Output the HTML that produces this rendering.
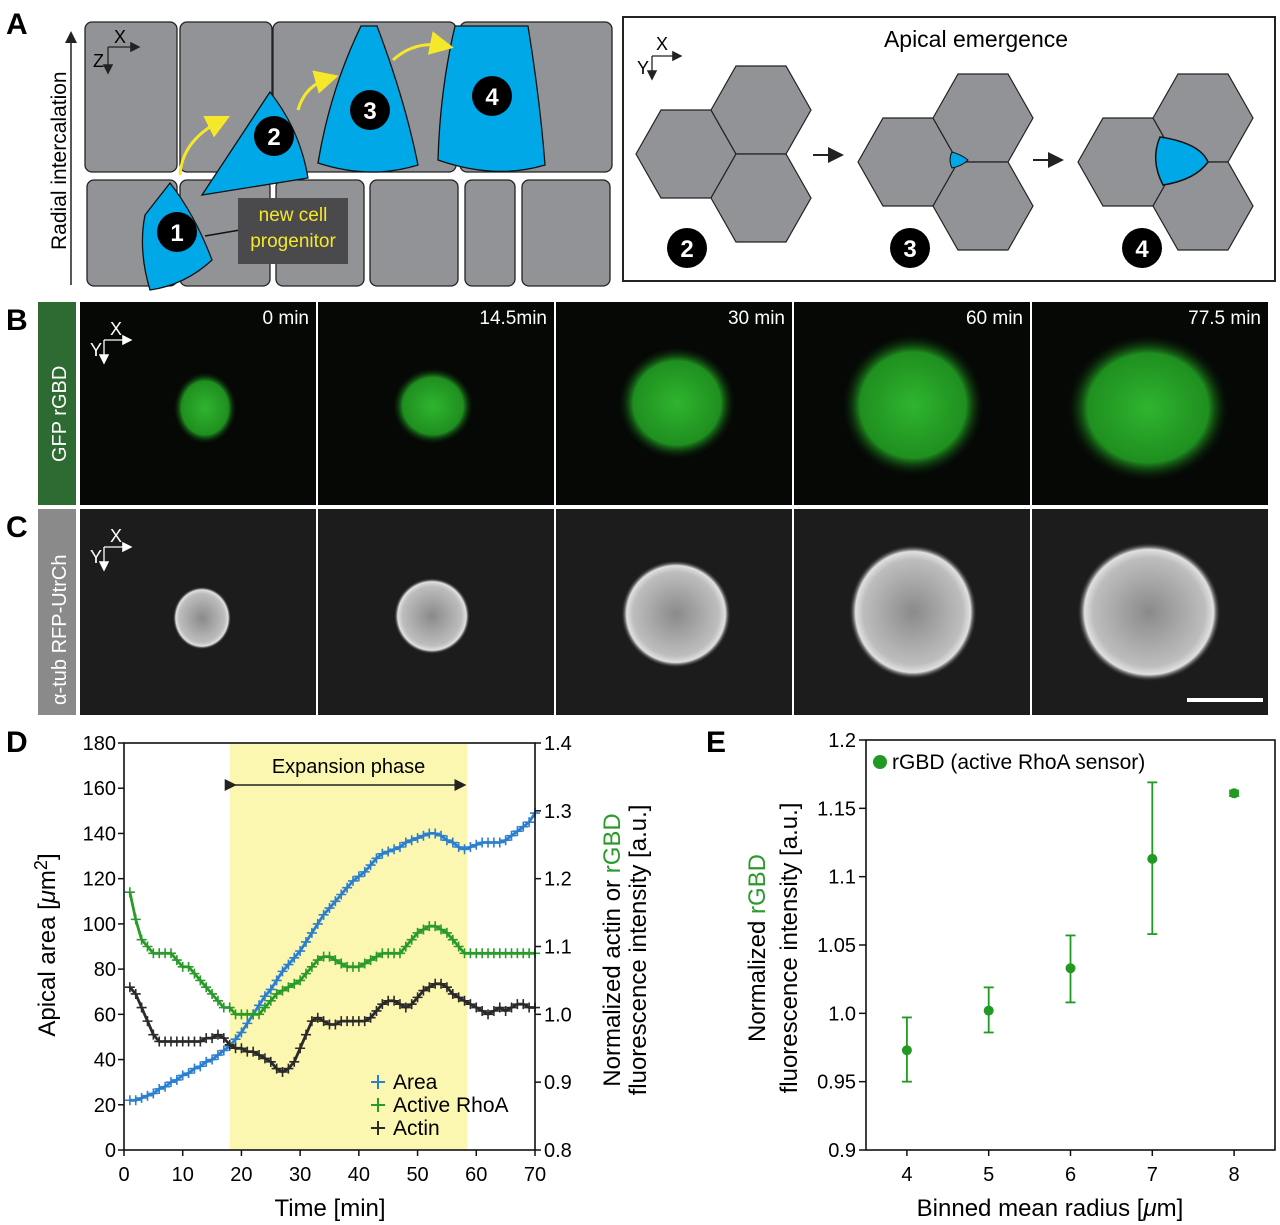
<!DOCTYPE html>
<html><head><meta charset="utf-8">
<style>
body{margin:0;background:#fff;}
svg{display:block;font-family:"Liberation Sans",Arial,sans-serif;}
</style></head>
<body>
<svg id="fig" width="1280" height="1225" viewBox="0 0 1280 1225" xmlns="http://www.w3.org/2000/svg">
<defs>
<radialGradient id="gG" cx="50%" cy="50%" r="50%"><stop offset="0" stop-color="#2fb52f"/><stop offset="0.75" stop-color="#1f8f1f"/><stop offset="1" stop-color="#0a200a" stop-opacity="0"/></radialGradient>
<radialGradient id="gW" cx="50%" cy="50%" r="50%"><stop offset="0" stop-color="#8a8a8a"/><stop offset="0.78" stop-color="#bdbdbd"/><stop offset="0.9" stop-color="#e0e0e0"/><stop offset="1" stop-color="#222" stop-opacity="0"/></radialGradient>
<marker id="ah" markerWidth="8" markerHeight="8" refX="6" refY="4" orient="auto"><path d="M0,0 L8,4 L0,8 z" fill="#222"/></marker>
<marker id="ahw" markerWidth="8" markerHeight="8" refX="6" refY="4" orient="auto"><path d="M0,0 L8,4 L0,8 z" fill="#fff"/></marker>
<marker id="ahy" markerWidth="8" markerHeight="8" refX="5" refY="4" orient="auto"><path d="M0,0 L8,4 L0,8 z" fill="#f5e82a"/></marker>
</defs>

<!-- Panel A -->
<g>
<text x="6" y="34" font-size="30" font-weight="bold">A</text>
<line x1="71" y1="285" x2="71" y2="34" stroke="#222" stroke-width="1.5" marker-end="url(#ah)"/>
<text transform="translate(66,250) rotate(-90)" font-size="21">Radial intercalation</text>
<g fill="#929396" stroke="#222" stroke-width="1.3">
<rect x="85" y="22" width="92" height="150" rx="7"/><rect x="180" y="22" width="92" height="150" rx="7"/>
<rect x="273" y="22" width="183" height="150" rx="7"/><rect x="460" y="22" width="152" height="150" rx="7"/>
<rect x="87" y="180" width="90" height="106" rx="7"/><rect x="180" y="180" width="90" height="106" rx="7"/>
<rect x="276" y="180" width="88" height="106" rx="7"/><rect x="370" y="180" width="88" height="106" rx="7"/>
<rect x="465" y="180" width="50" height="106" rx="7"/><rect x="522" y="180" width="88" height="106" rx="7"/>
</g>
<g fill="#00a8e8" stroke="#111" stroke-width="1.3">
<path d="M170,183 Q195,215 212,260 Q185,285 150,290 Q138,250 145,215 Z"/>
<path d="M270,92 Q300,130 308,178 L202,195 Z"/>
<path d="M361,26 L377,26 Q405,100 418,165 Q370,180 318,163 Q330,90 361,26 Z"/>
<path d="M455,26 L528,26 Q540,100 545,165 Q495,180 438,160 Q440,90 455,26 Z"/>
</g>
<g fill="none" stroke="#f5e82a" stroke-width="3">
<path d="M180,175 Q182,140 222,120" marker-end="url(#ahy)"/>
<path d="M298,110 Q305,85 330,78" marker-end="url(#ahy)"/>
<path d="M393,60 Q415,40 445,46" marker-end="url(#ahy)"/>
</g>
<g font-size="24" font-weight="bold" fill="#fff" text-anchor="middle">
<circle cx="177" cy="232" r="20" fill="#000"/><text x="177" y="241">1</text>
<circle cx="274" cy="136" r="20" fill="#000"/><text x="274" y="145">2</text>
<circle cx="370" cy="110" r="20" fill="#000"/><text x="370" y="119">3</text>
<circle cx="492" cy="96" r="20" fill="#000"/><text x="492" y="105">4</text>
</g>
<line x1="205" y1="236" x2="240" y2="230" stroke="#111" stroke-width="1.5"/>
<rect x="238" y="198" width="110" height="66" fill="#4a4a4c"/>
<text x="293" y="221" font-size="19" fill="#f5e82a" text-anchor="middle">new cell</text>
<text x="293" y="247" font-size="19" fill="#f5e82a" text-anchor="middle">progenitor</text>
<g stroke="#222" stroke-width="1.3" fill="none"><line x1="108" y1="47" x2="138" y2="47" marker-end="url(#ah)"/><line x1="108" y1="47" x2="108" y2="72" marker-end="url(#ah)"/></g>
<text x="114" y="43" font-size="18">X</text><text x="93" y="67" font-size="18">Z</text>

<rect x="623" y="17" width="652" height="264" fill="none" stroke="#222" stroke-width="2"/>
<text x="976" y="47" font-size="23" text-anchor="middle">Apical emergence</text>
<g stroke="#222" stroke-width="1.3" fill="none"><line x1="652" y1="56" x2="680" y2="56" marker-end="url(#ah)"/><line x1="652" y1="56" x2="652" y2="78" marker-end="url(#ah)"/></g>
<text x="656" y="50" font-size="18">X</text><text x="637" y="74" font-size="18">Y</text>
<g id="hexes" fill="#929396" stroke="#222" stroke-width="1.2"></g>
<g stroke="#222" stroke-width="2"><line x1="813" y1="155" x2="840" y2="155" marker-end="url(#ah)"/><line x1="1033" y1="160" x2="1060" y2="160" marker-end="url(#ah)"/></g>
<path d="M952,152 Q962,155 968,160 Q962,166 952,168 Q948,160 952,152Z" fill="#00a8e8" stroke="#111"/>
<path d="M1160,137 Q1200,143 1208,162 Q1195,180 1163,185 Q1150,160 1160,137Z" fill="#00a8e8" stroke="#111" stroke-width="1.5"/>
<g font-size="24" font-weight="bold" fill="#fff" text-anchor="middle">
<circle cx="687" cy="248" r="20" fill="#000"/><text x="687" y="257">2</text>
<circle cx="910" cy="248" r="20" fill="#000"/><text x="910" y="257">3</text>
<circle cx="1142" cy="248" r="20" fill="#000"/><text x="1142" y="257">4</text>
</g>
</g>

<!-- Panels B,C -->
<g>
<text x="6" y="330" font-size="30" font-weight="bold">B</text>
<rect x="38" y="302" width="38" height="203" fill="#2e6b32"/>
<text transform="translate(66,462) rotate(-90)" font-size="20" fill="#fff">GFP rGBD</text>
<g id="rowB"></g>
</g>
<g>
<text x="6" y="537" font-size="30" font-weight="bold">C</text>
<rect x="38" y="509" width="38" height="206" fill="#8a8a8a"/>
<text transform="translate(66,705) rotate(-90)" font-size="20" fill="#fff">α-tub RFP-UtrCh</text>
<g id="rowC"></g>
</g>

<!-- Panel D -->
<g>
<text x="6" y="752" font-size="30" font-weight="bold">D</text>
<g id="chartD"></g>
</g>
<!-- Panel E -->
<g>
<text x="706" y="752" font-size="30" font-weight="bold">E</text>
<g id="chartE"></g>
</g>
</svg>
<script>
const NS="http://www.w3.org/2000/svg";
function mk(parent,tag,attrs,txt){const e=document.createElementNS(NS,tag);for(const k in attrs)e.setAttribute(k,attrs[k]);if(txt!==undefined)e.textContent=txt;parent.appendChild(e);return e;}

// ---- Chart D data ----
const timeMin=[1,2,3,4,5,6,7,8,9,10,11,12,13,14,15,16,17,18,19,20,21,22,23,24,25,26,27,28,29,30,31,32,33,34,35,36,37,38,39,40,41,42,43,44,45,46,47,48,49,50,51,52,53,54,55,56,57,58,59,60,61,62,63,64,65,66,67,68,69,70];
const areaValues=[22,22,23,24,25,27,28,30,31,33,34,36,37,39,40,42,44,46,49,52,56,60,64,68,71,75,79,82,85,88,92,96,100,104,107,110,113,116,119,121,123,126,129,131,132,133,134,136,137,138,139,140,140,139,137,136,134,133,134,135,136,136,136,136,137,139,141,143,145,149];
const rhoaValues=[1.18,1.14,1.11,1.10,1.09,1.09,1.09,1.09,1.08,1.07,1.07,1.06,1.05,1.04,1.03,1.02,1.01,1.01,1.00,1.00,1.00,1.00,1.00,1.01,1.02,1.03,1.035,1.04,1.045,1.05,1.06,1.07,1.08,1.085,1.085,1.08,1.075,1.07,1.07,1.07,1.075,1.08,1.085,1.09,1.09,1.09,1.09,1.10,1.11,1.12,1.125,1.13,1.13,1.125,1.12,1.11,1.10,1.09,1.09,1.09,1.09,1.09,1.09,1.09,1.09,1.09,1.09,1.09,1.09,1.09];
const actinValues=[1.04,1.03,1.01,0.99,0.97,0.96,0.96,0.96,0.96,0.96,0.96,0.96,0.96,0.965,0.965,0.97,0.965,0.955,0.95,0.95,0.945,0.945,0.94,0.935,0.93,0.92,0.915,0.92,0.93,0.95,0.97,0.99,0.995,0.99,0.985,0.985,0.99,0.99,0.99,0.99,0.99,0.995,1.005,1.015,1.02,1.02,1.015,1.01,1.015,1.025,1.035,1.04,1.045,1.045,1.04,1.03,1.025,1.02,1.015,1.01,1.005,1.0,1.005,1.01,1.005,1.01,1.015,1.015,1.01,1.01];
const xTicksD=[0,10,20,30,40,50,60,70];
const yLeftTicks=[0,20,40,60,80,100,120,140,160,180];
const yRightTicks=[0.8,0.9,1.0,1.1,1.2,1.3,1.4];
const expansion=[18,58.5];

const D={x0:124,x1:535,y0:1150,y1:743};
const xD=t=>D.x0+(t/70)*(D.x1-D.x0);
const yL=v=>D.y0-(v/180)*(D.y0-D.y1);
const yR=v=>D.y0-((v-0.8)/0.6)*(D.y0-D.y1);
const gD=document.getElementById('chartD');
let r=mk(gD,'rect',{x:xD(expansion[0]),y:D.y1,width:xD(expansion[1])-xD(expansion[0]),height:D.y0-D.y1,fill:'#fcf7b0'});


mk(gD,'line',{x1:xD(expansion[0])+4,x2:xD(expansion[1])-4,y1:785,y2:785,stroke:'#222','stroke-width':1.5,'marker-end':'url(#ah)','marker-start':'url(#ah)'});
let et=mk(gD,'text',{x:(xD(expansion[0])+xD(expansion[1]))/2,y:773,'font-size':20,'text-anchor':'middle'},'Expansion phase');


function series(vals,yf,color,name){
  const g=mk(gD,'g',{});
  
  
  let d='';
  vals.forEach((v,i)=>{const x=xD(timeMin[i]),y=yf(v);d+=(i?'L':'M')+x.toFixed(1)+','+y.toFixed(1);
    const p=mk(g,'path',{d:`M${x-5},${y}h10M${x},${y-5}v10`,stroke:color,'stroke-width':1.6});
    
    });
  mk(g,'path',{d:d,fill:'none',stroke:color,'stroke-width':2.8});
}
series(areaValues,yL,'#2c7fcf','area');
series(rhoaValues,yR,'#2a9a2a','active-rhoa');
series(actinValues,yR,'#2a2a2a','actin');
mk(gD,'rect',{x:D.x0,y:D.y1,width:D.x1-D.x0,height:D.y0-D.y1,fill:'none',stroke:'#111','stroke-width':1.6});
xTicksD.forEach(t=>{mk(gD,'line',{x1:xD(t),x2:xD(t),y1:D.y0,y2:D.y0+6,stroke:'#111','stroke-width':1.5});
  const tx=mk(gD,'text',{x:xD(t),y:D.y0+31,'font-size':20,'text-anchor':'middle'},String(t));
  
  });
yLeftTicks.forEach(v=>{mk(gD,'line',{x1:D.x0-6,x2:D.x0,y1:yL(v),y2:yL(v),stroke:'#111','stroke-width':1.5});
  const tx=mk(gD,'text',{x:D.x0-8,y:yL(v)+7,'font-size':20,'text-anchor':'end'},String(v));
  
  });
yRightTicks.forEach(v=>{mk(gD,'line',{x1:D.x1,x2:D.x1+6,y1:yR(v),y2:yR(v),stroke:'#111','stroke-width':1.5});
  const tx=mk(gD,'text',{x:D.x1+9,y:yR(v)+7,'font-size':20},v.toFixed(1));
  
  });
let t1=mk(gD,'text',{x:330,y:1216,'font-size':24,'text-anchor':'middle'},'Time [min]');

let t2=mk(gD,'text',{transform:'translate(55,945) rotate(-90)','font-size':24,'text-anchor':'middle'});

t2.innerHTML='Apical area [<tspan font-style="italic">μ</tspan>m<tspan dy="-8" font-size="18">2</tspan><tspan dy="8">]</tspan>';
let t3=mk(gD,'text',{transform:'translate(620,950) rotate(-90)','font-size':24,'text-anchor':'middle'});

t3.innerHTML='Normalized actin or <tspan fill="#2a9a2a">rGBD</tspan>';
let t4=mk(gD,'text',{transform:'translate(646,950) rotate(-90)','font-size':24,'text-anchor':'middle'},'fluorescence intensity [a.u.]');

[['Area','#2c7fcf',1089],['Active RhoA','#2a9a2a',1112],['Actin','#2a2a2a',1135]].forEach(([n,c,y])=>{
  const g=mk(gD,'g',{});
  
  
  mk(g,'path',{d:`M371,${y-7}h14M378,${y-14}v14`,stroke:c,'stroke-width':2});
  mk(g,'text',{x:393,y:y,'font-size':21},n);
});

// ---- Chart E data ----
const radiusBins=[4,5,6,7,8];
const rgbdMeans=[0.973,1.002,1.033,1.113,1.161];
const rgbdLow=[0.950,0.986,1.008,1.058,1.159];
const rgbdHigh=[0.997,1.019,1.057,1.169,1.163];
const yTicksE=[0.9,0.95,1.0,1.05,1.1,1.15,1.2];
const yTickLabelsE=['0.9','0.95','1.0','1.05','1.1','1.15','1.2'];
const E={x0:866,x1:1275,y0:1150,y1:740,xmin:3.5,xmax:8.5,ymin:0.9,ymax:1.2};
const xE=v=>E.x0+(v-E.xmin)/(E.xmax-E.xmin)*(E.x1-E.x0);
const yE=v=>E.y0-(v-E.ymin)/(E.ymax-E.ymin)*(E.y0-E.y1);
const gE=document.getElementById('chartE');
mk(gE,'rect',{x:E.x0,y:E.y1,width:E.x1-E.x0,height:E.y0-E.y1,fill:'none',stroke:'#111','stroke-width':1.6});
radiusBins.forEach((b,i)=>{
  const g=mk(gE,'g',{stroke:'#229922','stroke-width':1.8});
  
  
  const x=xE(b);
  mk(g,'line',{x1:x,x2:x,y1:yE(rgbdLow[i]),y2:yE(rgbdHigh[i])});
  mk(g,'line',{x1:x-5,x2:x+5,y1:yE(rgbdLow[i]),y2:yE(rgbdLow[i])});
  mk(g,'line',{x1:x-5,x2:x+5,y1:yE(rgbdHigh[i]),y2:yE(rgbdHigh[i])});
  mk(g,'circle',{cx:x,cy:yE(rgbdMeans[i]),r:5,fill:'#229922',stroke:'none'});
  mk(gE,'line',{x1:x,x2:x,y1:E.y0,y2:E.y0+6,stroke:'#111','stroke-width':1.5});
  const tx=mk(gE,'text',{x:x,y:E.y0+31,'font-size':20,'text-anchor':'middle'},String(b));
  
  
});
yTicksE.forEach((v,i)=>{mk(gE,'line',{x1:E.x0-7,x2:E.x0,y1:yE(v),y2:yE(v),stroke:'#111','stroke-width':1.5});
  const tx=mk(gE,'text',{x:E.x0-10,y:yE(v)+7,'font-size':20,'text-anchor':'end'},yTickLabelsE[i]);
  
  });
let e1=mk(gE,'text',{x:1050,y:1216,'font-size':24,'text-anchor':'middle'});

e1.innerHTML='Binned mean radius [<tspan font-style="italic">μ</tspan>m]';
let e2=mk(gE,'text',{transform:'translate(765,948) rotate(-90)','font-size':24,'text-anchor':'middle'});

e2.innerHTML='Normalized  <tspan fill="#2a9a2a">rGBD</tspan>';
let e3=mk(gE,'text',{transform:'translate(797,948) rotate(-90)','font-size':24,'text-anchor':'middle'},'fluorescence intensity [a.u.]');

const lg=mk(gE,'g',{});


mk(lg,'circle',{cx:880,cy:762,r:7,fill:'#229922'});
mk(lg,'text',{x:892,y:769,'font-size':21},'rGBD (active RhoA sensor)');

// ---- hexes ----
const hg=document.getElementById('hexes');
function hex(cx,cy){const s=50,h=44;return `M${cx-s},${cy} L${cx-s/2},${cy-h} L${cx+s/2},${cy-h} L${cx+s},${cy} L${cx+s/2},${cy+h} L${cx-s/2},${cy+h}Z`;}
[[0,0],[222,8],[442,8]].forEach(([dx,dy])=>{
  [[686,154],[761,110],[761,198]].forEach(([x,y])=>{const p=mk(hg,'path',{d:hex(x+dx,y+dy)});
    
    });
});

// ---- microscopy rows ----
const cols=[80,318,556,794,1032];
const times=['0 min','14.5min','30 min','60 min','77.5 min'];
const sizesB=[[205,408,28,32],[433,406,36,34],[677,403,52,50],[913,405,63,63],[1148,408,72,65]];
const sizesC=[[202,618,26,28],[432,616,34,34],[676,614,49,48],[913,612,57,60],[1149,612,64,62]];
function row(id,y,h,sizes,grad,bg,labelTime){
  const g=document.getElementById(id);
  cols.forEach((x,i)=>{
    const rr=mk(g,'rect',{x:x,y:y,width:236,height:h,fill:bg});
    
    
    const [cx,cy,rx,ry]=sizes[i];
    mk(g,'ellipse',{cx:cx,cy:cy,rx:rx*1.12,ry:ry*1.12,fill:grad});
    if(labelTime){const t=mk(g,'text',{x:x+229,y:y+22,'font-size':19,fill:'#fff','text-anchor':'end'},times[i]);
      
      }
  });
  const ax=mk(g,'g',{stroke:'#fff','stroke-width':1.3,fill:'none'});
  mk(ax,'line',{x1:104,y1:y+38,x2:130,y2:y+38,'marker-end':'url(#ahw)'});
  mk(ax,'line',{x1:104,y1:y+38,x2:104,y2:y+60,'marker-end':'url(#ahw)'});
  mk(g,'text',{x:110,y:y+33,'font-size':18,fill:'#fff'},'X');
  mk(g,'text',{x:90,y:y+54,'font-size':18,fill:'#fff'},'Y');
}
row('rowB',302,203,sizesB,'url(#gG)','#050805',true);
row('rowC',509,206,sizesC,'url(#gW)','#1c1c1c',false);
const sb=mk(document.getElementById('rowC'),'rect',{x:1187,y:698,width:76,height:4,fill:'#fff'});


</script>
</body></html>
